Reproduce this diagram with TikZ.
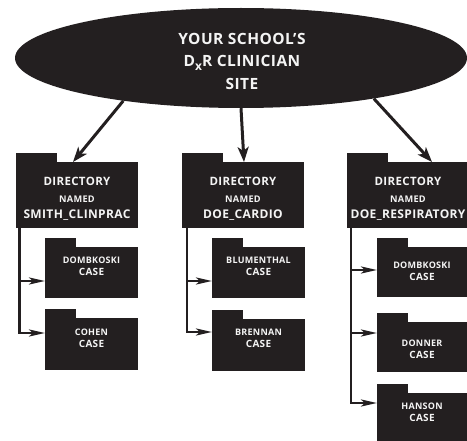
\documentclass[tikz,border=0pt]{standalone}
\usepackage{fontspec}
\setmainfont{Open Sans}[LetterSpace=3]
\usetikzlibrary{arrows.meta,shapes.geometric}
\definecolor{fcol}{HTML}{231F20}
\definecolor{ftxt}{HTML}{F4F4F4}
\tikzset{
  fbody/.style={rectangle,fill=fcol,inner sep=0pt,outer sep=0pt,anchor=north west},
  ftext/.style={text=ftxt,font=\bfseries,align=center,inner sep=0pt},
  mainarr/.style={draw=fcol,line width=3pt,-{Stealth[length=15pt,width=11pt,inset=4pt]}},
  subarr/.style={draw=fcol,line width=2.6pt,-{Stealth[length=16pt,width=7pt,inset=4pt]}},
}
\newcommand\folderbox[6]{% name, x, y, w, h, tab width
  \node[fbody,minimum width=#4pt,minimum height=#5pt] (#1) at (#2,#3) {};
  \fill[fcol] (#1.north west) rectangle ++(#6,-9);
}
\newcommand\dirtext[1]{{\fontsize{11.5}{16.5}\selectfont DIRECTORY}\\{\fontsize{9.2}{16.5}\selectfont NAMED}\\{\fontsize{12}{16.5}\selectfont #1}}
\newcommand\casetext[1]{\fontsize{9}{12.5}\selectfont #1\\CASE}
\begin{document}
\begin{tikzpicture}[x=1pt,y=-1pt]
\useasboundingbox (0,0) rectangle (467,441);
% top ellipse
\node[ellipse,fill=fcol,minimum width=452pt,minimum height=100pt,inner sep=0pt] (site) at (241,58) {};
\node[ftext,font=\bfseries\fontsize{15.5}{22.5}\selectfont] (sitetext) at (242,61)
  {YOUR SCHOOL’S\\D\raisebox{-3.5pt}{\fontsize{12}{12}\selectfont x}R CLINICIAN\\SITE};
% directories
\folderbox{d1}{16}{162}{122}{66}{41}
\folderbox{d2}{182}{162}{122}{66}{41}
\folderbox{d3}{347}{162}{120}{66}{41}
\node[ftext,font=\bfseries\fontsize{11}{16.5}\selectfont] (d1t) at (77,199) {\dirtext{SMITH\_CLINPRAC}};
\node[ftext,font=\bfseries\fontsize{11}{16.5}\selectfont] (d2t) at (243,199) {\dirtext{DOE\_CARDIO}};
\node[ftext,font=\bfseries\fontsize{11}{16.5}\selectfont] (d3t) at (408,199) {\dirtext{DOE\_RESPIRATORY}};
% case folders
\folderbox{s11}{45}{247}{93}{51}{31}
\folderbox{s12}{45}{318}{93}{52}{31}
\folderbox{s21}{212}{247}{93}{51}{31}
\folderbox{s22}{212}{319}{93}{52}{31}
\folderbox{s31}{377}{247}{90}{50}{31}
\folderbox{s32}{377}{322}{90}{50}{31}
\folderbox{s33}{377}{393}{90}{48}{31}
\node[ftext] (s11t) at (91.5,266.5) {\casetext{DOMBKOSKI}};
\node[ftext] (s12t) at (91.5,338) {\casetext{COHEN}};
\node[ftext] (s21t) at (258.5,266.5) {\casetext{BLUMENTHAL}};
\node[ftext] (s22t) at (258.5,338.5) {\casetext{BRENNAN}};
\node[ftext] (s31t) at (422,271) {\casetext{DOMBKOSKI}};
\node[ftext] (s32t) at (422,349) {\casetext{DONNER}};
\node[ftext] (s33t) at (422,412.5) {\casetext{HANSON}};
% main arrows
\draw[mainarr] (site.200) -- ([xshift=57pt]d1.north west);
\draw[mainarr] (site.270) -- ([xshift=62pt]d2.north west);
\draw[mainarr] (site.343) -- ([xshift=85pt]d3.north west);
% branch arrows
\draw[subarr] ([xshift=3.5pt]d1.south west) |- ([yshift=-8.5pt]s11.west);
\draw[subarr] ([xshift=3.5pt]d1.south west) |- ([yshift=11pt]s12.west);
\draw[subarr] ([xshift=5pt]d2.south west) |- ([yshift=-8.5pt]s21.west);
\draw[subarr] ([xshift=5pt]d2.south west) |- ([yshift=13pt]s22.west);
\draw[subarr] ([xshift=4pt]d3.south west) |- ([yshift=2pt]s31.west);
\draw[subarr] ([xshift=4pt]d3.south west) |- ([yshift=14pt]s32.west);
\draw[subarr] ([xshift=4pt]d3.south west) |- ([yshift=14pt]s33.west);
\end{tikzpicture}
\end{document}
